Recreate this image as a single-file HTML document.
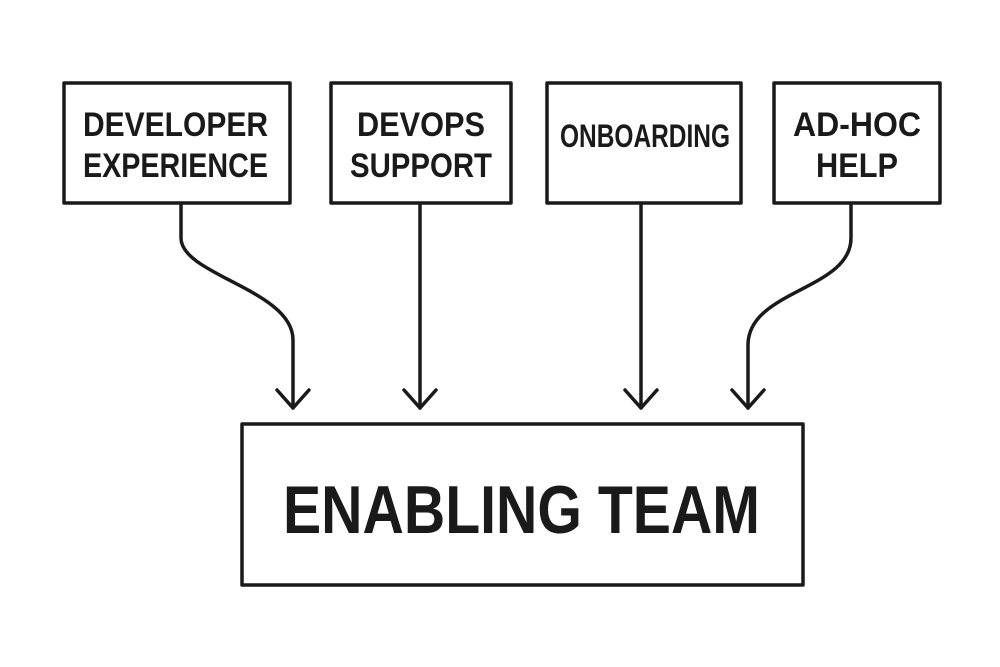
<!DOCTYPE html>
<html><head><meta charset="utf-8"><style>
html,body{margin:0;padding:0;background:#fff;width:1000px;height:667px;overflow:hidden}
svg{display:block}
text{font-family:"Liberation Sans",sans-serif;font-weight:bold;fill:#1a1a1a}
</style></head><body>
<svg width="1000" height="667" viewBox="0 0 1000 667" xmlns="http://www.w3.org/2000/svg">
<g fill="none" stroke="#1a1a1a" stroke-width="3.5" stroke-linecap="round" stroke-linejoin="round">
<rect x="64" y="83" width="226" height="120"/>
<rect x="331" y="83" width="180" height="120"/>
<rect x="547" y="83" width="194" height="120"/>
<rect x="774" y="83" width="166" height="120"/>
<rect x="242" y="424" width="561" height="161"/>
<path d="M181 205 L181 238 C181 275 293 290 293 340 L293 408"/>
<path d="M277 390 L293 408 L309 390"/>
<path d="M420 205 L420 408"/>
<path d="M404 390 L420 408 L436 390"/>
<path d="M641 205 L641 408"/>
<path d="M625 390 L641 408 L657 390"/>
<path d="M851 205 L851 238 C851 290 748 290 748 345 L748 408"/>
<path d="M732 390 L748 408 L764 390"/>
</g>
<text x="83" y="136" font-size="34" textLength="185" lengthAdjust="spacingAndGlyphs">DEVELOPER</text>
<text x="83" y="177" font-size="34" textLength="185" lengthAdjust="spacingAndGlyphs">EXPERIENCE</text>
<text x="357" y="136" font-size="34" textLength="128" lengthAdjust="spacingAndGlyphs">DEVOPS</text>
<text x="350" y="177" font-size="34" textLength="142" lengthAdjust="spacingAndGlyphs">SUPPORT</text>
<text x="560" y="147" font-size="32" textLength="170" lengthAdjust="spacingAndGlyphs">ONBOARDING</text>
<text x="793" y="136" font-size="34" textLength="128" lengthAdjust="spacingAndGlyphs">AD-HOC</text>
<text x="816" y="177" font-size="34" textLength="82" lengthAdjust="spacingAndGlyphs">HELP</text>
<text x="283" y="533" font-size="68" textLength="477" lengthAdjust="spacingAndGlyphs">ENABLING TEAM</text>
</svg>
</body></html>
